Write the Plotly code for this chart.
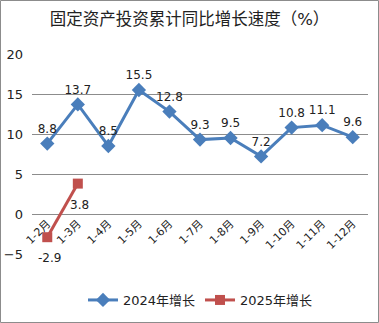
import plotly.graph_objects as go

# Cumulative fixed-asset investment growth, year on year (%)
months = ["1-2月", "1-3月", "1-4月", "1-5月", "1-6月", "1-7月",
          "1-8月", "1-9月", "1-10月", "1-11月", "1-12月"]
growth_2024 = [8.8, 13.7, 8.5, 15.5, 12.8, 9.3, 9.5, 7.2, 10.8, 11.1, 9.6]
growth_2025 = [-2.9, 3.8]

y_ticks = [-5, 0, 5, 10, 15, 20]

BLUE = "#4A7EBB"
RED = "#C0504D"
FONT = "DejaVu Sans, Noto Sans CJK SC, sans-serif"

fig = go.Figure()
fig.add_trace(go.Scatter(
    x=months, y=growth_2024, name="2024年增长",
    mode="lines+markers+text",
    line=dict(color=BLUE, width=3),
    marker=dict(symbol="diamond", size=11, color=BLUE),
    text=[f"{v:.1f}" for v in growth_2024],
    textposition="top center",
    textfont=dict(size=12, color="#222222", family=FONT),
))
fig.add_trace(go.Scatter(
    x=months[:len(growth_2025)], y=growth_2025, name="2025年增长",
    mode="lines+markers",
    line=dict(color=RED, width=3),
    marker=dict(symbol="square", size=10, color=RED),
))

# value labels below the 2025 points
for m, v in zip(months, growth_2025):
    fig.add_annotation(x=m, y=v, text=f"{v:.1f}", showarrow=False,
                       xshift=2, yshift=-21,
                       font=dict(size=12, color="#222222", family=FONT))

# outer chart frame
fig.add_shape(type="rect", xref="paper", yref="paper",
              x0=(0.5 - 32) / 336, x1=(378.5 - 32) / 336,
              y0=(254 - 322.5) / 200, y1=(254 - 0.5) / 200,
              line=dict(color="#8C8C8C", width=1))

fig.update_layout(
    width=379, height=323,
    margin=dict(l=32, r=11, t=54, b=69, autoexpand=False),
    paper_bgcolor="white", plot_bgcolor="white",
    font=dict(family=FONT, color="#222222"),
    title=dict(text="固定资产投资累计同比增长速度（%）", x=0.5, xanchor="center",
               y=1 - 19 / 323, yanchor="middle",
               font=dict(size=16.5, color="#222222", family=FONT)),
    showlegend=True,
    legend=dict(orientation="h", x=0.5, xanchor="center",
                y=(254 - 300) / 200, yanchor="middle",
                font=dict(size=13, family=FONT), itemwidth=30,
                entrywidth=72, entrywidthmode="pixels",
                tracegroupgap=0),
    xaxis=dict(type="category", range=[-0.5, 10.5], anchor="free",
               position=0.2, showgrid=False, showline=False, zeroline=False,
               tickangle=-45, tickfont=dict(size=11, family=FONT),
               ticks="", automargin=False),
    yaxis=dict(range=[-5, 20], tickvals=y_ticks, showgrid=True,
               gridcolor="#8C8C8C", gridwidth=1, zeroline=True,
               zerolinecolor="#8C8C8C", zerolinewidth=1, showline=False,
               tickfont=dict(size=13, family=FONT), ticks="",
               ticklabelstandoff=8, automargin=False),
)

fig.write_html("out.html")
